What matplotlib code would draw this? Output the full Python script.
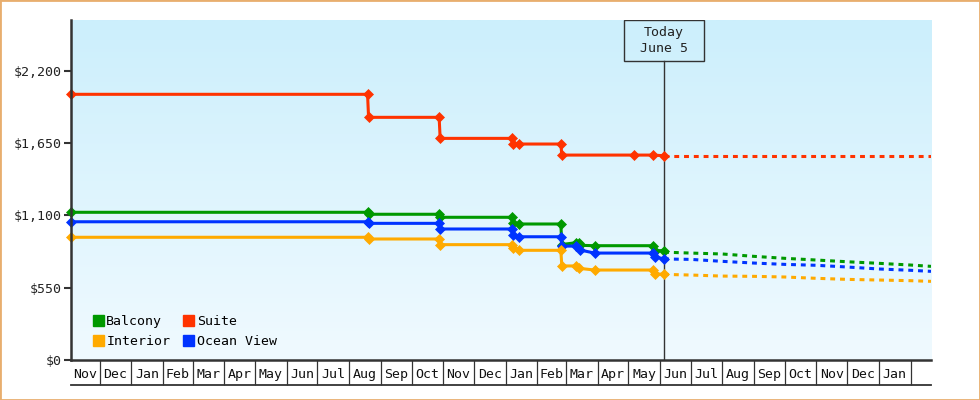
import numpy as np
import pandas as pd
import matplotlib
matplotlib.use('Agg')
import matplotlib.pyplot as plt
import matplotlib.dates as mdates
from matplotlib.colors import LinearSegmentedColormap
from matplotlib.patches import Patch, Rectangle

# observed fares (price history)
suite_dates = ['2023-11-03', '2024-08-19', '2024-08-20', '2024-10-28', '2024-10-29',
               '2025-01-07', '2025-01-08', '2025-01-14', '2025-02-24', '2025-02-25',
               '2025-05-07', '2025-05-25', '2025-06-05']
suite_prices = [2020, 2020, 1845, 1845, 1685, 1685, 1642, 1642, 1642, 1558, 1558, 1558, 1553]

balcony_dates = ['2023-11-03', '2024-08-19', '2024-08-20', '2024-10-28', '2024-10-29',
                 '2025-01-07', '2025-01-08', '2025-01-14', '2025-02-24', '2025-02-25',
                 '2025-03-11', '2025-03-14', '2025-03-15', '2025-03-29', '2025-05-25',
                 '2025-05-27', '2025-06-05']
balcony_prices = [1123, 1123, 1108, 1108, 1085, 1085, 1042, 1034, 1034, 878,
                  892, 892, 872, 869, 869, 832, 831]

ocean_dates = ['2023-11-03', '2024-08-19', '2024-08-20', '2024-10-28', '2024-10-29',
               '2025-01-07', '2025-01-08', '2025-01-14', '2025-02-24', '2025-02-25',
               '2025-03-11', '2025-03-15', '2025-03-29', '2025-05-25', '2025-05-27',
               '2025-06-05']
ocean_prices = [1051, 1051, 1039, 1039, 996, 996, 950, 937, 937, 866,
                866, 836, 813, 813, 785, 768]

interior_dates = ['2023-11-03', '2024-08-19', '2024-08-20', '2024-10-28', '2024-10-29',
                  '2025-01-07', '2025-01-08', '2025-01-14', '2025-02-24', '2025-02-25',
                  '2025-03-11', '2025-03-14', '2025-03-29', '2025-05-25', '2025-05-27',
                  '2025-06-05']
interior_prices = [933, 933, 920, 920, 877, 877, 849, 834, 834, 715,
                   715, 697, 684, 684, 655, 651]

# forecast (dashed)
forecast_dates = ['2025-06-05', '2025-07-01', '2025-08-01', '2025-09-01', '2025-10-01',
                  '2025-11-01', '2025-12-01', '2026-01-01', '2026-02-01', '2026-02-21']
suite_forecast = [1549, 1549, 1549, 1549, 1549, 1549, 1549, 1549, 1549, 1549]
balcony_forecast = [820, 813, 806, 788, 773, 760, 747, 735, 722, 712]
ocean_forecast = [768, 765, 750, 737, 727, 720, 707, 692, 682, 674]
interior_forecast = [651, 646, 638, 636, 631, 621, 613, 608, 603, 598]

today = '2025-06-05'
today_label = 'Today\nJune 5'
x_start, x_end = '2023-11-03', '2026-02-21'
month_starts = pd.date_range('2023-11-01', '2026-02-01', freq='MS')
month_labels = ['Nov', 'Dec', 'Jan', 'Feb', 'Mar', 'Apr', 'May', 'Jun', 'Jul', 'Aug', 'Sep',
                'Oct', 'Nov', 'Dec', 'Jan', 'Feb', 'Mar', 'Apr', 'May', 'Jun', 'Jul', 'Aug',
                'Sep', 'Oct', 'Nov', 'Dec', 'Jan']
y_ticks = [0, 550, 1100, 1650, 2200]
y_labels = ['$0', '$550', '$1,100', '$1,650', '$2,200']

RED = '#FF3300'
GREEN = '#009900'
BLUE = '#0033FF'
ORANGE = '#FFAA00'
DARK = '#333333'


def main():
    fig = plt.figure(figsize=(9.8, 4.0), dpi=100)
    ax = fig.add_axes([71 / 980, 40 / 400, 860 / 980, 340 / 400])

    # gradient background
    cmap = LinearSegmentedColormap.from_list('bg', ['#F0FAFF', '#CCEFFC'])
    ax.imshow(np.linspace(0, 1, 256).reshape(-1, 1), cmap=cmap, aspect='auto',
              extent=[0, 1, 0, 1], transform=ax.transAxes, origin='lower', zorder=0)

    series = [
        (suite_dates, suite_prices, suite_forecast, RED),
        (balcony_dates, balcony_prices, balcony_forecast, GREEN),
        (ocean_dates, ocean_prices, ocean_forecast, BLUE),
        (interior_dates, interior_prices, interior_forecast, ORANGE),
    ]
    fdates = pd.to_datetime(forecast_dates)
    for dates, prices, fc, col in series:
        ax.plot(pd.to_datetime(dates), prices, color=col, lw=2.2, marker='D', ms=5.3,
                mec=col, mew=0.5, zorder=4, clip_on=False)
        ln, = ax.plot(fdates, fc, color=col, lw=2.2, zorder=3)
        ln.set_dashes((1.6, 1.6))

    ax.set_xlim(pd.Timestamp(x_start), pd.Timestamp(x_end))
    ax.set_ylim(0, 2585)

    # today marker
    x0, x1 = ax.get_xlim()
    tf = (mdates.date2num(pd.Timestamp(today)) - x0) / (x1 - x0)
    bw, bh = 80 / 860, 41 / 340
    ax.plot([pd.Timestamp(today)] * 2, [0, 1 - bh], transform=ax.get_xaxis_transform(),
            color=DARK, lw=1, zorder=3.5)
    ax.add_patch(Rectangle((tf - bw / 2, 1 - bh), bw, bh, transform=ax.transAxes,
                           facecolor='none', edgecolor=DARK, lw=1, zorder=5))
    ax.text(tf, 1 - bh / 2, today_label, transform=ax.transAxes, ha='center', va='center',
            fontsize=9.5, color='#222222', linespacing=1.35, zorder=6)

    # axes styling
    for s in ['top', 'right']:
        ax.spines[s].set_visible(False)
    for s in ['left', 'bottom']:
        ax.spines[s].set_color(DARK)
        ax.spines[s].set_linewidth(1.8)
        ax.spines[s].set_zorder(6)
    ax.set_yticks(y_ticks)
    ax.set_yticklabels(y_labels)
    ax.tick_params(axis='y', length=5, width=1.5, color=DARK, pad=2,
                   labelsize=9.5, labelcolor='#222222')

    # month boxes under the axis
    edges = [max(d, pd.Timestamp(x_start)) for d in month_starts] + [pd.Timestamp('2026-02-01')]
    centers = [edges[i] + (edges[i + 1] - edges[i]) / 2 for i in range(len(month_labels))]
    ax.set_xticks(centers)
    ax.set_xticklabels(month_labels)
    ax.set_xticks(month_starts[1:], minor=True)
    ax.tick_params(axis='x', which='major', length=0, pad=6, labelsize=9.5,
                   labelcolor='#111111')
    ax.tick_params(axis='x', which='minor', length=18, width=0.9, color=DARK)
    ax.plot([0, 1], [-25 / 340] * 2, transform=ax.transAxes, color=DARK, lw=1.3,
            clip_on=False)

    handles = [Patch(color=GREEN, label='Balcony'), Patch(color=ORANGE, label='Interior'),
               Patch(color=RED, label='Suite'), Patch(color=BLUE, label='Ocean View')]
    ax.legend(handles=handles, ncol=2, loc='lower left', bbox_to_anchor=(0.025, 0.035),
              frameon=False, fontsize=9.5, handlelength=0.85, handleheight=0.85,
              handletextpad=0.2, columnspacing=0.97, labelspacing=0.52,
              borderpad=0, borderaxespad=0)

    fig.patches.append(Rectangle((0, 0), 1, 1, transform=fig.transFigure, fill=False,
                                 edgecolor='#E8AE6E', lw=2))
    fig.savefig('out.png', dpi=100)


if __name__ == '__main__':
    plt.rcParams['font.family'] = ['DejaVu Sans Mono', 'DejaVu Sans']
    main()
